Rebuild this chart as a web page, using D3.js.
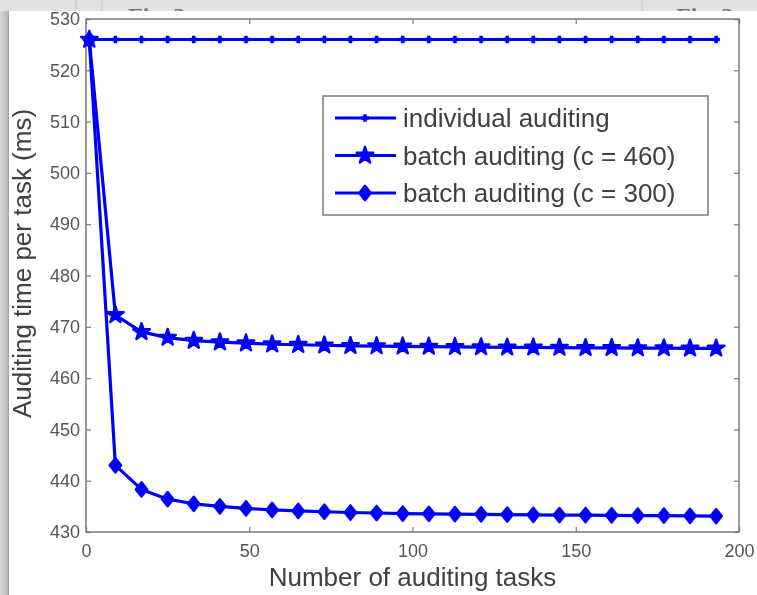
<!DOCTYPE html>
<html>
<head>
<meta charset="utf-8">
<script src="https://cdn.jsdelivr.net/npm/d3@7/dist/d3.min.js"></script>
<style>
  body { margin: 0; background: #fff; overflow: hidden; }
  text { font-family: "Liberation Sans", Arial, Helvetica, sans-serif; }
</style>
</head>
<body>
<script>
// number of auditing tasks (x)
const tasks = [1, 9, 17, 25, 33, 41, 49, 57, 65, 73, 81, 89, 97,
               105, 113, 121, 129, 137, 145, 153, 161, 169, 177, 185, 193];

// auditing time per task (ms)
const individual = [526, 526, 526, 526, 526, 526, 526, 526, 526, 526, 526, 526, 526,
                    526, 526, 526, 526, 526, 526, 526, 526, 526, 526, 526, 526];
const batch460 = [526, 472.3, 469.0, 467.9, 467.3, 467.0, 466.8, 466.6, 466.5, 466.4, 466.3, 466.25, 466.2,
                  466.15, 466.1, 466.05, 466.0, 466.0, 465.95, 465.9, 465.9, 465.85, 465.85, 465.8, 465.8];
const batch300 = [526, 443.0, 438.3, 436.4, 435.5, 435.0, 434.6, 434.3, 434.1, 433.95, 433.8, 433.7, 433.6,
                  433.55, 433.5, 433.45, 433.4, 433.35, 433.3, 433.3, 433.25, 433.2, 433.2, 433.15, 433.1];

const seriesNames = ["individual auditing", "batch auditing (c = 460)", "batch auditing (c = 300)"];
const xTicks = [0, 50, 100, 150, 200];
const yTicks = [430, 440, 450, 460, 470, 480, 490, 500, 510, 520, 530];

const width = 757, height = 595;
const blue = "#0000ff", ink = "#404040", frame = "#7a7a7a";

const svg = d3.select("body").append("svg")
    .attr("width", width)
    .attr("height", height);

// the reference is a soft, slightly blurred screenshot
svg.append("defs").append("filter").attr("id", "soft")
  .append("feGaussianBlur").attr("stdDeviation", 0.6);

const root = svg.append("g").attr("filter", "url(#soft)");

// screenshot surroundings: grey strip on top and on the left
root.append("rect").attr("width", width).attr("height", 12).attr("fill", "#e2e2e2");
root.append("text").attr("x", 128).attr("y", 24)
    .style("font-family", "'Liberation Serif', serif").style("font-size", "24px")
    .style("font-weight", "bold").attr("fill", "#777").text("Fig. 3");
root.append("text").attr("x", 676).attr("y", 24)
    .style("font-family", "'Liberation Serif', serif").style("font-size", "24px")
    .style("font-weight", "bold").attr("fill", "#777").text("Fig. 3");
root.append("rect").attr("x", 9).attr("y", 11).attr("width", width - 9).attr("height", height - 11).attr("fill", "#fff");
[76, 102, 642].forEach(d => root.append("line")
    .attr("x1", d).attr("x2", d).attr("y1", 0).attr("y2", 11)
    .attr("stroke", "#c4c4c4"));
const grad = svg.select("defs").append("linearGradient").attr("id", "shade");
grad.append("stop").attr("offset", "0%").attr("stop-color", "#d6d6d6");
grad.append("stop").attr("offset", "80%").attr("stop-color", "#bdbdbd");
grad.append("stop").attr("offset", "100%").attr("stop-color", "#9a9a9a");
root.append("rect").attr("y", 11).attr("width", 9).attr("height", height - 11).attr("fill", "url(#shade)");

const x = d3.scaleLinear().domain([0, 200]).range([86, 739]);
const y = d3.scaleLinear().domain([430, 530]).range([532, 19]);

// axes, matlab style: ticks inside, box all round
root.append("g").attr("transform", `translate(${x(0)},0)`)
    .call(d3.axisLeft(y).tickValues(yTicks).tickSize(-5).tickPadding(6));
root.append("g").attr("transform", `translate(0,${y(430)})`)
    .call(d3.axisBottom(x).tickValues(xTicks).tickSize(-5).tickPadding(12));
root.append("g").attr("transform", `translate(${x(200)},0)`)
    .call(d3.axisRight(y).tickValues(yTicks).tickSize(-5).tickFormat(""));
root.append("g").attr("transform", `translate(0,${y(530)})`)
    .call(d3.axisTop(x).tickValues(xTicks).tickSize(-5).tickFormat(""));

root.selectAll(".domain").remove();
root.selectAll(".tick line").attr("stroke", frame).attr("stroke-width", 1.2);
root.selectAll(".tick text").attr("fill", "#555").style("font-size", "18px")
    .style("font-family", "'Liberation Sans', Arial, sans-serif");

root.append("rect")
    .attr("x", x(0)).attr("y", y(530))
    .attr("width", x(200) - x(0)).attr("height", y(430) - y(530))
    .attr("fill", "none").attr("stroke", frame).attr("stroke-width", 1.5);

// axis titles
root.append("text")
    .attr("x", (x(0) + x(200)) / 2).attr("y", 586)
    .attr("text-anchor", "middle").attr("fill", ink)
    .style("font-size", "26px").text("Number of auditing tasks");
root.append("text")
    .attr("transform", `translate(31,${(y(430) + y(530)) / 2 - 12}) rotate(-90)`)
    .attr("text-anchor", "middle").attr("fill", ink)
    .style("font-size", "26px").text("Auditing time per task (ms)");

// marker shapes
const plusType = { draw(ctx, s) { const r = Math.sqrt(s) / 2; ctx.moveTo(-r, 0); ctx.lineTo(r, 0); ctx.moveTo(0, -r); ctx.lineTo(0, r); } };
const diamondType = { draw(ctx, s) { const w = Math.sqrt(s) / 2, h = w * 1.25; ctx.moveTo(0, -h); ctx.lineTo(w, 0); ctx.lineTo(0, h); ctx.lineTo(-w, 0); ctx.closePath(); } };
const markers = [
  d3.symbol(plusType, 56)(),
  d3.symbol(d3.symbolStar, 85)(),
  d3.symbol(diamondType, 130)()
];

const series = [individual, batch460, batch300];
const line = d3.line().x((d, i) => x(tasks[i])).y(d => y(d));

series.forEach((vals, k) => {
  const g = root.append("g");
  g.append("path").attr("d", line(vals))
      .attr("fill", "none").attr("stroke", blue).attr("stroke-width", 3.2)
      .attr("stroke-linejoin", "round");
  g.selectAll("path.m").data(vals).join("path").attr("class", "m")
      .attr("transform", (d, i) => `translate(${x(tasks[i])},${y(d)})`)
      .attr("d", markers[k])
      .attr("fill", k === 0 ? "none" : blue)
      .attr("stroke", blue).attr("stroke-width", k === 0 ? 3.5 : 2.4)
      .attr("stroke-linejoin", "round");
});

// legend
const lg = root.append("g");
lg.append("rect").attr("x", 323).attr("y", 96).attr("width", 385).attr("height", 119)
    .attr("fill", "#fff").attr("stroke", frame).attr("stroke-width", 1.5);
seriesNames.forEach((name, k) => {
  const ly = 118 + k * 37.5;
  lg.append("line").attr("x1", 335).attr("x2", 396).attr("y1", ly).attr("y2", ly)
      .attr("stroke", blue).attr("stroke-width", 3.2);
  lg.append("path").attr("transform", `translate(365,${ly})`).attr("d", markers[k])
      .attr("fill", k === 0 ? "none" : blue)
      .attr("stroke", blue).attr("stroke-width", k === 0 ? 3.5 : 2.4)
      .attr("stroke-linejoin", "round");
  lg.append("text").attr("x", 403).attr("y", ly + 9).attr("fill", ink)
      .style("font-size", "26px").text(name);
});
</script>
</body>
</html>
